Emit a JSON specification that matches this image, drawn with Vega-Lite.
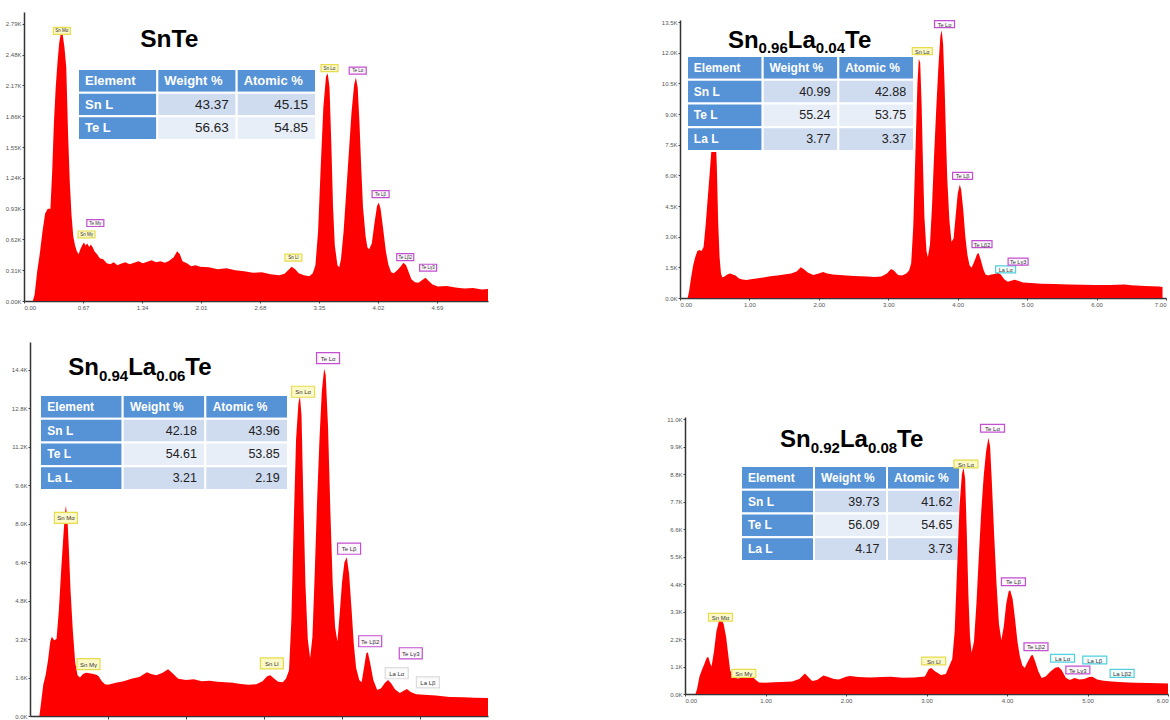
{
"$schema":"https://vega.github.io/schema/vega-lite/v6.json",
"width":1170,"height":720,"autosize":{"type":"none"},"padding":0,"background":"white",
"config":{"view":{"stroke":null},"axis":{"labelFont":"Liberation Sans","labelFontSize":6,"labelColor":"#555","tickColor":"#444","tickSize":2,"domainColor":"#333","domainWidth":1.5,"grid":false,"labelPadding":1}},
"datasets":{
"p1":[{"e":0,"c":0},{"e":0.1,"c":0},{"e":0.12,"c":60},{"e":0.15,"c":300},{"e":0.18,"c":480},{"e":0.21,"c":700},{"e":0.24,"c":880},{"e":0.27,"c":930},{"e":0.3,"c":930},{"e":0.32,"c":1300},{"e":0.34,"c":1800},{"e":0.36,"c":2150},{"e":0.38,"c":2400},{"e":0.4,"c":2600},{"e":0.42,"c":2700},{"e":0.43,"c":2720},{"e":0.44,"c":2680},{"e":0.46,"c":2550},{"e":0.48,"c":2350},{"e":0.5,"c":1700},{"e":0.52,"c":1200},{"e":0.54,"c":860},{"e":0.56,"c":650},{"e":0.58,"c":560},{"e":0.6,"c":500},{"e":0.62,"c":470},{"e":0.64,"c":520},{"e":0.66,"c":560},{"e":0.68,"c":590},{"e":0.7,"c":560},{"e":0.72,"c":580},{"e":0.74,"c":545},{"e":0.76,"c":570},{"e":0.78,"c":540},{"e":0.8,"c":500},{"e":0.83,"c":470},{"e":0.86,"c":430},{"e":0.9,"c":420},{"e":0.94,"c":380},{"e":0.98,"c":370},{"e":1.02,"c":390},{"e":1.06,"c":360},{"e":1.1,"c":375},{"e":1.15,"c":390},{"e":1.2,"c":370},{"e":1.25,"c":385},{"e":1.3,"c":400},{"e":1.35,"c":380},{"e":1.4,"c":395},{"e":1.45,"c":410},{"e":1.5,"c":390},{"e":1.55,"c":400},{"e":1.6,"c":385},{"e":1.65,"c":405},{"e":1.7,"c":440},{"e":1.74,"c":500},{"e":1.77,"c":470},{"e":1.8,"c":400},{"e":1.85,"c":380},{"e":1.9,"c":350},{"e":1.95,"c":360},{"e":2.0,"c":345},{"e":2.1,"c":340},{"e":2.2,"c":320},{"e":2.3,"c":330},{"e":2.4,"c":310},{"e":2.5,"c":300},{"e":2.6,"c":285},{"e":2.7,"c":290},{"e":2.8,"c":270},{"e":2.9,"c":260},{"e":2.96,"c":275},{"e":3.0,"c":310},{"e":3.04,"c":345},{"e":3.08,"c":320},{"e":3.12,"c":280},{"e":3.18,"c":260},{"e":3.24,"c":250},{"e":3.28,"c":280},{"e":3.31,"c":360},{"e":3.34,"c":700},{"e":3.37,"c":1350},{"e":3.4,"c":1950},{"e":3.43,"c":2260},{"e":3.45,"c":2290},{"e":3.47,"c":2150},{"e":3.49,"c":1600},{"e":3.51,"c":950},{"e":3.53,"c":560},{"e":3.56,"c":360},{"e":3.58,"c":340},{"e":3.6,"c":420},{"e":3.63,"c":700},{"e":3.66,"c":1100},{"e":3.69,"c":1500},{"e":3.72,"c":1900},{"e":3.75,"c":2180},{"e":3.77,"c":2250},{"e":3.79,"c":2150},{"e":3.81,"c":1800},{"e":3.83,"c":1350},{"e":3.85,"c":950},{"e":3.88,"c":650},{"e":3.9,"c":540},{"e":3.92,"c":520},{"e":3.95,"c":580},{"e":3.98,"c":780},{"e":4.01,"c":960},{"e":4.03,"c":990},{"e":4.05,"c":930},{"e":4.08,"c":720},{"e":4.11,"c":500},{"e":4.14,"c":360},{"e":4.17,"c":290},{"e":4.2,"c":280},{"e":4.24,"c":310},{"e":4.28,"c":350},{"e":4.31,"c":385},{"e":4.34,"c":360},{"e":4.37,"c":290},{"e":4.4,"c":220},{"e":4.44,"c":190},{"e":4.48,"c":185},{"e":4.52,"c":210},{"e":4.56,"c":235},{"e":4.6,"c":200},{"e":4.64,"c":165},{"e":4.7,"c":145},{"e":4.8,"c":150},{"e":4.9,"c":135},{"e":5.0,"c":125},{"e":5.1,"c":130},{"e":5.2,"c":115},{"e":5.27,"c":120}],
"p2":[{"e":0,"c":0},{"e":0.11,"c":0},{"e":0.13,"c":300},{"e":0.16,"c":1000},{"e":0.19,"c":1600},{"e":0.22,"c":2000},{"e":0.25,"c":2300},{"e":0.28,"c":2350},{"e":0.31,"c":2300},{"e":0.34,"c":2500},{"e":0.37,"c":3600},{"e":0.4,"c":4900},{"e":0.43,"c":6200},{"e":0.46,"c":7600},{"e":0.49,"c":8400},{"e":0.51,"c":8200},{"e":0.53,"c":6500},{"e":0.55,"c":3700},{"e":0.57,"c":2000},{"e":0.59,"c":1200},{"e":0.61,"c":1000},{"e":0.64,"c":1050},{"e":0.68,"c":1150},{"e":0.72,"c":1200},{"e":0.76,"c":1150},{"e":0.8,"c":1100},{"e":0.85,"c":950},{"e":0.9,"c":900},{"e":0.96,"c":880},{"e":1.02,"c":920},{"e":1.1,"c":960},{"e":1.2,"c":1000},{"e":1.3,"c":1060},{"e":1.4,"c":1100},{"e":1.5,"c":1150},{"e":1.6,"c":1200},{"e":1.68,"c":1300},{"e":1.74,"c":1500},{"e":1.78,"c":1420},{"e":1.84,"c":1250},{"e":1.92,"c":1120},{"e":2.0,"c":1200},{"e":2.06,"c":1270},{"e":2.12,"c":1200},{"e":2.2,"c":1150},{"e":2.3,"c":1120},{"e":2.4,"c":1100},{"e":2.5,"c":1080},{"e":2.6,"c":1060},{"e":2.7,"c":1050},{"e":2.8,"c":1030},{"e":2.9,"c":1050},{"e":2.98,"c":1200},{"e":3.04,"c":1420},{"e":3.08,"c":1350},{"e":3.14,"c":1130},{"e":3.2,"c":1100},{"e":3.26,"c":1200},{"e":3.3,"c":1350},{"e":3.33,"c":1700},{"e":3.36,"c":3500},{"e":3.39,"c":7000},{"e":3.42,"c":10500},{"e":3.44,"c":11700},{"e":3.46,"c":11500},{"e":3.48,"c":9500},{"e":3.5,"c":6500},{"e":3.52,"c":4000},{"e":3.55,"c":2300},{"e":3.57,"c":2000},{"e":3.6,"c":2600},{"e":3.63,"c":4500},{"e":3.66,"c":7000},{"e":3.69,"c":9200},{"e":3.72,"c":11200},{"e":3.75,"c":12800},{"e":3.77,"c":13100},{"e":3.79,"c":12400},{"e":3.81,"c":10500},{"e":3.83,"c":8000},{"e":3.85,"c":5800},{"e":3.88,"c":3800},{"e":3.91,"c":2750},{"e":3.94,"c":2900},{"e":3.97,"c":4000},{"e":4.0,"c":5100},{"e":4.03,"c":5550},{"e":4.05,"c":5300},{"e":4.08,"c":4300},{"e":4.11,"c":3000},{"e":4.14,"c":2100},{"e":4.17,"c":1600},{"e":4.2,"c":1480},{"e":4.24,"c":1800},{"e":4.28,"c":2150},{"e":4.3,"c":2200},{"e":4.33,"c":1900},{"e":4.37,"c":1400},{"e":4.4,"c":1150},{"e":4.44,"c":1100},{"e":4.48,"c":1150},{"e":4.53,"c":1180},{"e":4.58,"c":1230},{"e":4.62,"c":1150},{"e":4.67,"c":920},{"e":4.72,"c":800},{"e":4.77,"c":840},{"e":4.82,"c":890},{"e":4.87,"c":840},{"e":4.94,"c":760},{"e":5.0,"c":740},{"e":5.2,"c":700},{"e":5.4,"c":680},{"e":5.6,"c":660},{"e":5.8,"c":650},{"e":6.0,"c":630},{"e":6.2,"c":640},{"e":6.4,"c":660},{"e":6.5,"c":620},{"e":6.7,"c":590},{"e":6.9,"c":560},{"e":6.95,"c":540}],
"p3":[{"e":0,"c":0},{"e":0.12,"c":0},{"e":0.14,"c":500},{"e":0.17,"c":1300},{"e":0.2,"c":1700},{"e":0.23,"c":2300},{"e":0.26,"c":3100},{"e":0.28,"c":3300},{"e":0.31,"c":3150},{"e":0.34,"c":3200},{"e":0.37,"c":4400},{"e":0.4,"c":6100},{"e":0.43,"c":7600},{"e":0.45,"c":8500},{"e":0.46,"c":8750},{"e":0.48,"c":8200},{"e":0.5,"c":6800},{"e":0.52,"c":5200},{"e":0.55,"c":3500},{"e":0.58,"c":2200},{"e":0.61,"c":1700},{"e":0.64,"c":1600},{"e":0.68,"c":1750},{"e":0.72,"c":1800},{"e":0.76,"c":1780},{"e":0.8,"c":1760},{"e":0.85,"c":1720},{"e":0.88,"c":1650},{"e":0.92,"c":1450},{"e":0.96,"c":1320},{"e":1.0,"c":1300},{"e":1.1,"c":1380},{"e":1.2,"c":1450},{"e":1.3,"c":1550},{"e":1.4,"c":1620},{"e":1.5,"c":1820},{"e":1.55,"c":1750},{"e":1.62,"c":1700},{"e":1.7,"c":1800},{"e":1.77,"c":1950},{"e":1.82,"c":1800},{"e":1.9,"c":1550},{"e":2.0,"c":1500},{"e":2.1,"c":1530},{"e":2.2,"c":1450},{"e":2.3,"c":1470},{"e":2.4,"c":1420},{"e":2.5,"c":1400},{"e":2.6,"c":1380},{"e":2.7,"c":1330},{"e":2.8,"c":1300},{"e":2.9,"c":1320},{"e":2.98,"c":1450},{"e":3.04,"c":1650},{"e":3.08,"c":1700},{"e":3.12,"c":1580},{"e":3.18,"c":1420},{"e":3.24,"c":1400},{"e":3.28,"c":1550},{"e":3.32,"c":1900},{"e":3.35,"c":4000},{"e":3.38,"c":8000},{"e":3.41,"c":11500},{"e":3.44,"c":13000},{"e":3.46,"c":13300},{"e":3.48,"c":12500},{"e":3.5,"c":9500},{"e":3.53,"c":5500},{"e":3.56,"c":3200},{"e":3.59,"c":2400},{"e":3.62,"c":3300},{"e":3.65,"c":6000},{"e":3.68,"c":9000},{"e":3.71,"c":11500},{"e":3.74,"c":13500},{"e":3.77,"c":14450},{"e":3.79,"c":14200},{"e":3.82,"c":12000},{"e":3.85,"c":8500},{"e":3.88,"c":5500},{"e":3.91,"c":3700},{"e":3.94,"c":3100},{"e":3.97,"c":4300},{"e":4.0,"c":5600},{"e":4.03,"c":6400},{"e":4.06,"c":6600},{"e":4.09,"c":5900},{"e":4.12,"c":4500},{"e":4.15,"c":3000},{"e":4.18,"c":2000},{"e":4.22,"c":1500},{"e":4.25,"c":1400},{"e":4.28,"c":2000},{"e":4.31,"c":2600},{"e":4.33,"c":2650},{"e":4.36,"c":2200},{"e":4.4,"c":1500},{"e":4.45,"c":1080},{"e":4.5,"c":1150},{"e":4.55,"c":1380},{"e":4.59,"c":1500},{"e":4.63,"c":1350},{"e":4.68,"c":1100},{"e":4.74,"c":960},{"e":4.79,"c":1050},{"e":4.83,"c":1120},{"e":4.88,"c":1000},{"e":4.95,"c":900},{"e":5.05,"c":880},{"e":5.2,"c":850},{"e":5.38,"c":790},{"e":5.55,"c":780},{"e":5.7,"c":760},{"e":5.87,"c":750}],
"p4":[{"e":0,"c":0},{"e":0.13,"c":0},{"e":0.15,"c":200},{"e":0.18,"c":700},{"e":0.21,"c":960},{"e":0.24,"c":1200},{"e":0.27,"c":1450},{"e":0.29,"c":1480},{"e":0.31,"c":1250},{"e":0.33,"c":1100},{"e":0.36,"c":1700},{"e":0.39,"c":2500},{"e":0.42,"c":2900},{"e":0.45,"c":2990},{"e":0.48,"c":2800},{"e":0.51,"c":2300},{"e":0.54,"c":1500},{"e":0.56,"c":960},{"e":0.59,"c":720},{"e":0.62,"c":640},{"e":0.66,"c":620},{"e":0.7,"c":650},{"e":0.75,"c":640},{"e":0.8,"c":660},{"e":0.84,"c":690},{"e":0.88,"c":560},{"e":0.92,"c":460},{"e":1.0,"c":450},{"e":1.1,"c":470},{"e":1.2,"c":480},{"e":1.33,"c":500},{"e":1.42,"c":600},{"e":1.49,"c":820},{"e":1.54,"c":650},{"e":1.58,"c":520},{"e":1.64,"c":560},{"e":1.72,"c":740},{"e":1.78,"c":680},{"e":1.85,"c":600},{"e":1.91,"c":580},{"e":2.0,"c":690},{"e":2.05,"c":720},{"e":2.15,"c":680},{"e":2.3,"c":660},{"e":2.45,"c":680},{"e":2.56,"c":690},{"e":2.7,"c":650},{"e":2.85,"c":660},{"e":2.98,"c":700},{"e":3.03,"c":1000},{"e":3.06,"c":1040},{"e":3.1,"c":920},{"e":3.18,"c":760},{"e":3.24,"c":800},{"e":3.28,"c":1100},{"e":3.32,"c":1400},{"e":3.35,"c":2500},{"e":3.38,"c":5000},{"e":3.41,"c":7500},{"e":3.44,"c":8800},{"e":3.46,"c":9050},{"e":3.48,"c":8600},{"e":3.5,"c":6500},{"e":3.52,"c":4000},{"e":3.54,"c":2300},{"e":3.56,"c":1650},{"e":3.59,"c":2100},{"e":3.62,"c":3600},{"e":3.65,"c":5500},{"e":3.68,"c":7300},{"e":3.71,"c":8700},{"e":3.74,"c":9700},{"e":3.77,"c":10250},{"e":3.79,"c":9900},{"e":3.81,"c":8600},{"e":3.84,"c":6400},{"e":3.87,"c":4400},{"e":3.9,"c":2800},{"e":3.93,"c":2150},{"e":3.96,"c":2700},{"e":3.99,"c":3600},{"e":4.02,"c":4100},{"e":4.04,"c":4150},{"e":4.07,"c":3800},{"e":4.1,"c":3000},{"e":4.13,"c":2100},{"e":4.16,"c":1500},{"e":4.19,"c":1150},{"e":4.22,"c":1040},{"e":4.26,"c":1300},{"e":4.3,"c":1540},{"e":4.32,"c":1560},{"e":4.35,"c":1300},{"e":4.39,"c":900},{"e":4.43,"c":640},{"e":4.48,"c":700},{"e":4.54,"c":900},{"e":4.6,"c":1050},{"e":4.64,"c":1080},{"e":4.68,"c":950},{"e":4.73,"c":650},{"e":4.78,"c":560},{"e":4.84,"c":640},{"e":4.9,"c":580},{"e":4.96,"c":600},{"e":5.02,"c":680},{"e":5.06,"c":690},{"e":5.12,"c":580},{"e":5.2,"c":530},{"e":5.3,"c":500},{"e":5.4,"c":480},{"e":5.5,"c":460},{"e":5.6,"c":450},{"e":5.75,"c":440},{"e":5.9,"c":430},{"e":6.0,"c":420}],
"l1":[{"e":0.43,"c":2720,"t":"Sn Mα","el":"Sn"},{"e":0.81,"c":785,"t":"Te Mγ","el":"Te"},{"e":0.71,"c":670,"t":"Sn Mγ","el":"Sn"},{"e":3.06,"c":436,"t":"Sn Ll","el":"Sn"},{"e":3.47,"c":2345,"t":"Sn Lα","el":"Sn"},{"e":3.79,"c":2320,"t":"Te Lα","el":"Te"},{"e":4.05,"c":1076,"t":"Te Lβ","el":"Te"},{"e":4.33,"c":442,"t":"Te Lβ2","el":"Te"},{"e":4.59,"c":335,"t":"Te Lγ3","el":"Te"}],
"l2":[{"e":3.49,"c":12080,"t":"Sn Lα","el":"Sn"},{"e":3.81,"c":13400,"t":"Te Lα","el":"Te"},{"e":4.07,"c":5970,"t":"Te Lβ","el":"Te"},{"e":4.35,"c":2640,"t":"Te Lβ2","el":"Te"},{"e":4.69,"c":1400,"t":"La Lα","el":"La"},{"e":4.87,"c":1780,"t":"Te Lγ3","el":"Te"}],
"l3":[{"e":0.46,"c":8240,"t":"Sn Mα","el":"Sn"},{"e":0.75,"c":2160,"t":"Sn Mγ","el":"Sn"},{"e":3.1,"c":2190,"t":"Sn Ll","el":"Sn"},{"e":3.5,"c":13490,"t":"Sn Lα","el":"Sn"},{"e":3.82,"c":14890,"t":"Te Lα","el":"Te"},{"e":4.09,"c":6960,"t":"Te Lβ","el":"Te"},{"e":4.36,"c":3110,"t":"Te Lβ2","el":"Te"},{"e":4.88,"c":2610,"t":"Te Lγ3","el":"Te"},{"e":4.7,"c":1780,"t":"La Lα","el":"La"},{"e":5.1,"c":1400,"t":"La Lβ","el":"La"}],
"l4":[{"e":0.44,"c":3070,"t":"Sn Mα","el":"Sn"},{"e":0.73,"c":827,"t":"Sn Mγ","el":"Sn"},{"e":3.09,"c":1320,"t":"Sn Ll","el":"Sn"},{"e":3.49,"c":9200,"t":"Sn Lα","el":"Sn"},{"e":3.82,"c":10630,"t":"Te Lα","el":"Te"},{"e":4.08,"c":4490,"t":"Te Lβ","el":"Te"},{"e":4.36,"c":1890,"t":"Te Lβ2","el":"Te"},{"e":4.69,"c":1430,"t":"La Lα","el":"La"},{"e":4.88,"c":960,"t":"Te Lγ3","el":"Te"},{"e":5.09,"c":1360,"t":"La Lβ","el":"La"},{"e":5.43,"c":827,"t":"La Lβ2","el":"La"}],
"t1":[{"r":"Element","c":"Element","t":"Element"},{"r":"Element","c":"Weight %","t":"Weight %"},{"r":"Element","c":"Atomic %","t":"Atomic %"},{"r":"Sn L","c":"Element","t":"Sn L"},{"r":"Sn L","c":"Weight %","t":"43.37"},{"r":"Sn L","c":"Atomic %","t":"45.15"},{"r":"Te L","c":"Element","t":"Te L"},{"r":"Te L","c":"Weight %","t":"56.63"},{"r":"Te L","c":"Atomic %","t":"54.85"}],
"t2":[{"r":"Element","c":"Element","t":"Element"},{"r":"Element","c":"Weight %","t":"Weight %"},{"r":"Element","c":"Atomic %","t":"Atomic %"},{"r":"Sn L","c":"Element","t":"Sn L"},{"r":"Sn L","c":"Weight %","t":"40.99"},{"r":"Sn L","c":"Atomic %","t":"42.88"},{"r":"Te L","c":"Element","t":"Te L"},{"r":"Te L","c":"Weight %","t":"55.24"},{"r":"Te L","c":"Atomic %","t":"53.75"},{"r":"La L","c":"Element","t":"La L"},{"r":"La L","c":"Weight %","t":"3.77"},{"r":"La L","c":"Atomic %","t":"3.37"}],
"t3":[{"r":"Element","c":"Element","t":"Element"},{"r":"Element","c":"Weight %","t":"Weight %"},{"r":"Element","c":"Atomic %","t":"Atomic %"},{"r":"Sn L","c":"Element","t":"Sn L"},{"r":"Sn L","c":"Weight %","t":"42.18"},{"r":"Sn L","c":"Atomic %","t":"43.96"},{"r":"Te L","c":"Element","t":"Te L"},{"r":"Te L","c":"Weight %","t":"54.61"},{"r":"Te L","c":"Atomic %","t":"53.85"},{"r":"La L","c":"Element","t":"La L"},{"r":"La L","c":"Weight %","t":"3.21"},{"r":"La L","c":"Atomic %","t":"2.19"}],
"t4":[{"r":"Element","c":"Element","t":"Element"},{"r":"Element","c":"Weight %","t":"Weight %"},{"r":"Element","c":"Atomic %","t":"Atomic %"},{"r":"Sn L","c":"Element","t":"Sn L"},{"r":"Sn L","c":"Weight %","t":"39.73"},{"r":"Sn L","c":"Atomic %","t":"41.62"},{"r":"Te L","c":"Element","t":"Te L"},{"r":"Te L","c":"Weight %","t":"56.09"},{"r":"Te L","c":"Atomic %","t":"54.65"},{"r":"La L","c":"Element","t":"La L"},{"r":"La L","c":"Weight %","t":"4.17"},{"r":"La L","c":"Atomic %","t":"3.73"}]
},
"resolve":{"scale":{"x":"independent","y":"independent","stroke":"independent","fill":"independent"},"axis":{"x":"independent","y":"independent"}},
"layer":[
{"data":{"name":"t1"},
 "encoding":{"x":{"field":"c","type":"nominal","sort":null,"scale":{"type":"band","domain":["Element","Weight %","Atomic %"],"range":[78,316],"paddingInner":0,"paddingOuter":0},"axis":null},
 "y":{"field":"r","type":"nominal","sort":null,"scale":{"type":"band","domain":["Element","Sn L","Te L"],"range":[69,140],"paddingInner":0,"paddingOuter":0},"axis":null}},
 "layer":[
 {"mark":{"type":"rect","stroke":"white","strokeWidth":2},"encoding":{"fill":{"condition":[{"test":"datum.r==='Element'||datum.c==='Element'","value":"#5592d6"},{"test":"datum.r==='Te L'","value":"#e8eef8"}],"value":"#cfdbef"}}},
 {"transform":[{"filter":"datum.r==='Element'||datum.c==='Element'"}],"mark":{"type":"text","align":"left","baseline":"middle","dx":-32.7,"font":"Liberation Sans","fontSize":13,"fontWeight":"bold","color":"white"},"encoding":{"text":{"field":"t"}}},
 {"transform":[{"filter":"datum.r!=='Element'&&datum.c!=='Element'"}],"mark":{"type":"text","align":"right","baseline":"middle","dx":31.7,"font":"Liberation Sans","fontSize":13.5,"color":"#222"},"encoding":{"text":{"field":"t"}}}
 ]},
{"encoding":{
 "x":{"field":"e","type":"quantitative","scale":{"domain":[0,5.27],"range":[24,488],"nice":false,"zero":false},"axis":{"orient":"bottom","offset":-419,"values":[0,0.67,1.34,2.01,2.68,3.35,4.02,4.69],"format":".2f","title":null}},
 "y":{"field":"c","type":"quantitative","scale":{"domain":[0,2910],"range":[301,12],"nice":false,"zero":false},"axis":{"orient":"left","offset":-24,"values":[0,310,620,930,1240,1550,1860,2170,2480,2790],"labelExpr":"format(datum.value/1000,'.2f')+'K'","title":null}}},
 "layer":[
 {"data":{"name":"p1"},"mark":{"type":"area","color":"#ff0000","interpolate":"linear"},"encoding":{}},
 {"data":{"name":"l1"},"mark":{"type":"point","shape":"M-1,-0.41L1,-0.41L1,0.41L-1,0.41Z","size":289,"filled":true,"strokeWidth":1.2,"opacity":1},"encoding":{"stroke":{"field":"el","type":"nominal","scale":{"domain":["Sn","Te","La"],"range":["#e6dc4e","#c24fd0","#52d0de"]},"legend":null},"fill":{"field":"el","type":"nominal","scale":{"domain":["Sn","Te","La"],"range":["#fcf9c8","#fdf6fd","#f3fcfd"]},"legend":null}}},
 {"data":{"name":"l1"},"mark":{"type":"text","font":"Liberation Sans","fontSize":4.5,"color":"#333","baseline":"middle","dy":0.5},"encoding":{"text":{"field":"t"}}},
 {"data":{"values":[{"e":1.32,"c":2555}]},"mark":{"type":"text","text":"SnTe","font":"Liberation Sans","fontWeight":"bold","fontSize":24.5,"align":"left","baseline":"alphabetic","color":"#000"}}
 ]},
{"encoding":{
 "x":{"field":"e","type":"quantitative","scale":{"domain":[0,7],"range":[680,1166],"nice":false,"zero":false},"axis":{"orient":"bottom","offset":-422,"values":[0,1,2,3,4,5,6,7],"format":".2f","title":null}},
 "y":{"field":"c","type":"quantitative","scale":{"domain":[0,13600],"range":[298,20],"nice":false,"zero":false},"axis":{"orient":"left","offset":-680,"values":[0,1500,3000,4500,6000,7500,9000,10500,12000,13500],"labelExpr":"format(datum.value/1000,'.1f')+'K'","title":null}}},
 "layer":[
 {"data":{"name":"p2"},"mark":{"type":"area","color":"#ff0000","interpolate":"linear"},"encoding":{}},
 {"data":{"name":"l2"},"mark":{"type":"point","shape":"M-1,-0.35L1,-0.35L1,0.35L-1,0.35Z","size":400,"filled":true,"strokeWidth":1.2,"opacity":1},"encoding":{"stroke":{"field":"el","type":"nominal","scale":{"domain":["Sn","Te","La"],"range":["#e6dc4e","#c24fd0","#52d0de"]},"legend":null},"fill":{"field":"el","type":"nominal","scale":{"domain":["Sn","Te","La"],"range":["#fcf9c8","#fdf6fd","#f3fcfd"]},"legend":null}}},
 {"data":{"name":"l2"},"mark":{"type":"text","font":"Liberation Sans","fontSize":5.5,"color":"#333","baseline":"middle","dy":0.5},"encoding":{"text":{"field":"t"}}},
 {"data":{"values":[{"e":0.69,"c":12225}]},"mark":{"type":"text","text":"Sn","font":"Liberation Sans","fontWeight":"bold","fontSize":24,"align":"left","baseline":"alphabetic","color":"#000","dx":0}},
 {"data":{"values":[{"e":0.69,"c":12225}]},"mark":{"type":"text","text":"0.96","font":"Liberation Sans","fontWeight":"bold","fontSize":15,"align":"left","baseline":"alphabetic","color":"#000","dx":30.7,"dy":5}},
 {"data":{"values":[{"e":0.69,"c":12225}]},"mark":{"type":"text","text":"La","font":"Liberation Sans","fontWeight":"bold","fontSize":24,"align":"left","baseline":"alphabetic","color":"#000","dx":59.9}},
 {"data":{"values":[{"e":0.69,"c":12225}]},"mark":{"type":"text","text":"0.04","font":"Liberation Sans","fontWeight":"bold","fontSize":15,"align":"left","baseline":"alphabetic","color":"#000","dx":87.9,"dy":5}},
 {"data":{"values":[{"e":0.69,"c":12225}]},"mark":{"type":"text","text":"Te","font":"Liberation Sans","fontWeight":"bold","fontSize":24,"align":"left","baseline":"alphabetic","color":"#000","dx":117.1}}
 ]},
{"data":{"name":"t2"},
 "encoding":{"x":{"field":"c","type":"nominal","sort":null,"scale":{"type":"band","domain":["Element","Weight %","Atomic %"],"range":[687,914],"paddingInner":0,"paddingOuter":0},"axis":null},
 "y":{"field":"r","type":"nominal","sort":null,"scale":{"type":"band","domain":["Element","Sn L","Te L","La L"],"range":[56,151],"paddingInner":0,"paddingOuter":0},"axis":null}},
 "layer":[
 {"mark":{"type":"rect","stroke":"white","strokeWidth":2},"encoding":{"fill":{"condition":[{"test":"datum.r==='Element'||datum.c==='Element'","value":"#5592d6"},{"test":"datum.r==='Te L'","value":"#e8eef8"}],"value":"#cfdbef"}}},
 {"transform":[{"filter":"datum.r==='Element'||datum.c==='Element'"}],"mark":{"type":"text","align":"left","baseline":"middle","dx":-31,"font":"Liberation Sans","fontSize":12,"fontWeight":"bold","color":"white"},"encoding":{"text":{"field":"t"}}},
 {"transform":[{"filter":"datum.r!=='Element'&&datum.c!=='Element'"}],"mark":{"type":"text","align":"right","baseline":"middle","dx":30,"font":"Liberation Sans","fontSize":12.5,"color":"#222"},"encoding":{"text":{"field":"t"}}}
 ]},
{"data":{"name":"t3"},
 "encoding":{"x":{"field":"c","type":"nominal","sort":null,"scale":{"type":"band","domain":["Element","Weight %","Atomic %"],"range":[40,288],"paddingInner":0,"paddingOuter":0},"axis":null},
 "y":{"field":"r","type":"nominal","sort":null,"scale":{"type":"band","domain":["Element","Sn L","Te L","La L"],"range":[395,490],"paddingInner":0,"paddingOuter":0},"axis":null}},
 "layer":[
 {"mark":{"type":"rect","stroke":"white","strokeWidth":2},"encoding":{"fill":{"condition":[{"test":"datum.r==='Element'||datum.c==='Element'","value":"#5592d6"},{"test":"datum.r==='Te L'","value":"#e8eef8"}],"value":"#cfdbef"}}},
 {"transform":[{"filter":"datum.r==='Element'||datum.c==='Element'"}],"mark":{"type":"text","align":"left","baseline":"middle","dx":-34,"font":"Liberation Sans","fontSize":12,"fontWeight":"bold","color":"white"},"encoding":{"text":{"field":"t"}}},
 {"transform":[{"filter":"datum.r!=='Element'&&datum.c!=='Element'"}],"mark":{"type":"text","align":"right","baseline":"middle","dx":33,"font":"Liberation Sans","fontSize":12.5,"color":"#222"},"encoding":{"text":{"field":"t"}}}
 ]},
{"encoding":{
 "x":{"field":"e","type":"quantitative","scale":{"domain":[0,5.87],"range":[30,488],"nice":false,"zero":false},"axis":{"orient":"bottom","offset":-4,"values":[1,2,3,4,5],"labels":false,"tickSize":3,"title":null}},
 "y":{"field":"c","type":"quantitative","scale":{"domain":[0,15560],"range":[716,342],"nice":false,"zero":false},"axis":{"orient":"left","offset":-30,"values":[0,1600,3200,4800,6400,8000,9600,11200,12800,14400],"labelExpr":"format(datum.value/1000,'.1f')+'K'","title":null}}},
 "layer":[
 {"data":{"name":"p3"},"mark":{"type":"area","color":"#ff0000","interpolate":"linear"},"encoding":{}},
 {"data":{"name":"l3"},"mark":{"type":"point","shape":"M-1,-0.48L1,-0.48L1,0.48L-1,0.48Z","size":529,"filled":true,"strokeWidth":1.2,"opacity":1},"encoding":{"stroke":{"field":"el","type":"nominal","scale":{"domain":["Sn","Te","La"],"range":["#e6dc4e","#c24fd0","#dcdcdc"]},"legend":null},"fill":{"field":"el","type":"nominal","scale":{"domain":["Sn","Te","La"],"range":["#fcf9c8","#fdf6fd","#fbfbfb"]},"legend":null}}},
 {"data":{"name":"l3"},"mark":{"type":"text","font":"Liberation Sans","fontSize":6,"color":"#333","baseline":"middle","dy":0.5},"encoding":{"text":{"field":"t"}}},
 {"data":{"values":[{"e":0.49,"c":14186}]},"mark":{"type":"text","text":"Sn","font":"Liberation Sans","fontWeight":"bold","fontSize":24,"align":"left","baseline":"alphabetic","color":"#000","dx":0}},
 {"data":{"values":[{"e":0.49,"c":14186}]},"mark":{"type":"text","text":"0.94","font":"Liberation Sans","fontWeight":"bold","fontSize":15,"align":"left","baseline":"alphabetic","color":"#000","dx":30.7,"dy":5.5}},
 {"data":{"values":[{"e":0.49,"c":14186}]},"mark":{"type":"text","text":"La","font":"Liberation Sans","fontWeight":"bold","fontSize":24,"align":"left","baseline":"alphabetic","color":"#000","dx":59.9}},
 {"data":{"values":[{"e":0.49,"c":14186}]},"mark":{"type":"text","text":"0.06","font":"Liberation Sans","fontWeight":"bold","fontSize":15,"align":"left","baseline":"alphabetic","color":"#000","dx":87.9,"dy":5.5}},
 {"data":{"values":[{"e":0.49,"c":14186}]},"mark":{"type":"text","text":"Te","font":"Liberation Sans","fontWeight":"bold","fontSize":24,"align":"left","baseline":"alphabetic","color":"#000","dx":117.1}}
 ]},
{"data":{"name":"t4"},
 "encoding":{"x":{"field":"c","type":"nominal","sort":null,"scale":{"type":"band","domain":["Element","Weight %","Atomic %"],"range":[741,960],"paddingInner":0,"paddingOuter":0},"axis":null},
 "y":{"field":"r","type":"nominal","sort":null,"scale":{"type":"band","domain":["Element","Sn L","Te L","La L"],"range":[466,561],"paddingInner":0,"paddingOuter":0},"axis":null}},
 "layer":[
 {"mark":{"type":"rect","stroke":"white","strokeWidth":2},"encoding":{"fill":{"condition":[{"test":"datum.r==='Element'||datum.c==='Element'","value":"#5592d6"},{"test":"datum.r==='Te L'","value":"#e8eef8"}],"value":"#cfdbef"}}},
 {"transform":[{"filter":"datum.r==='Element'||datum.c==='Element'"}],"mark":{"type":"text","align":"left","baseline":"middle","dx":-29.5,"font":"Liberation Sans","fontSize":12,"fontWeight":"bold","color":"white"},"encoding":{"text":{"field":"t"}}},
 {"transform":[{"filter":"datum.r!=='Element'&&datum.c!=='Element'"}],"mark":{"type":"text","align":"right","baseline":"middle","dx":29,"font":"Liberation Sans","fontSize":12.5,"color":"#222"},"encoding":{"text":{"field":"t"}}}
 ]},
{"encoding":{
 "x":{"field":"e","type":"quantitative","scale":{"domain":[0,6],"range":[685,1168],"nice":false,"zero":false},"axis":{"orient":"bottom","offset":-26,"values":[0,1,2,3,4,5,6],"format":".2f","labelFlush":true,"title":null}},
 "y":{"field":"c","type":"quantitative","scale":{"domain":[0,11080],"range":[694,417],"nice":false,"zero":false},"axis":{"orient":"left","offset":-685,"values":[0,1100,2200,3300,4400,5500,6600,7700,8800,9900,11000],"labelExpr":"format(datum.value/1000,'.1f')+'K'","title":null}}},
 "layer":[
 {"data":{"name":"p4"},"mark":{"type":"area","color":"#ff0000","interpolate":"linear"},"encoding":{}},
 {"data":{"name":"l4"},"mark":{"type":"point","shape":"M-1,-0.33L1,-0.33L1,0.33L-1,0.33Z","size":576,"filled":true,"strokeWidth":1.2,"opacity":1},"encoding":{"stroke":{"field":"el","type":"nominal","scale":{"domain":["Sn","Te","La"],"range":["#e6dc4e","#c24fd0","#52d0de"]},"legend":null},"fill":{"field":"el","type":"nominal","scale":{"domain":["Sn","Te","La"],"range":["#fcf9c8","#fdf6fd","#f3fcfd"]},"legend":null}}},
 {"data":{"name":"l4"},"mark":{"type":"text","font":"Liberation Sans","fontSize":6,"color":"#333","baseline":"middle","dy":0.5},"encoding":{"text":{"field":"t"}}},
 {"data":{"values":[{"e":1.18,"c":9868}]},"mark":{"type":"text","text":"Sn","font":"Liberation Sans","fontWeight":"bold","fontSize":24,"align":"left","baseline":"alphabetic","color":"#000","dx":0}},
 {"data":{"values":[{"e":1.18,"c":9868}]},"mark":{"type":"text","text":"0.92","font":"Liberation Sans","fontWeight":"bold","fontSize":15,"align":"left","baseline":"alphabetic","color":"#000","dx":30.7,"dy":5.5}},
 {"data":{"values":[{"e":1.18,"c":9868}]},"mark":{"type":"text","text":"La","font":"Liberation Sans","fontWeight":"bold","fontSize":24,"align":"left","baseline":"alphabetic","color":"#000","dx":59.9}},
 {"data":{"values":[{"e":1.18,"c":9868}]},"mark":{"type":"text","text":"0.08","font":"Liberation Sans","fontWeight":"bold","fontSize":15,"align":"left","baseline":"alphabetic","color":"#000","dx":87.9,"dy":5.5}},
 {"data":{"values":[{"e":1.18,"c":9868}]},"mark":{"type":"text","text":"Te","font":"Liberation Sans","fontWeight":"bold","fontSize":24,"align":"left","baseline":"alphabetic","color":"#000","dx":117.1}}
 ]}
]
}
